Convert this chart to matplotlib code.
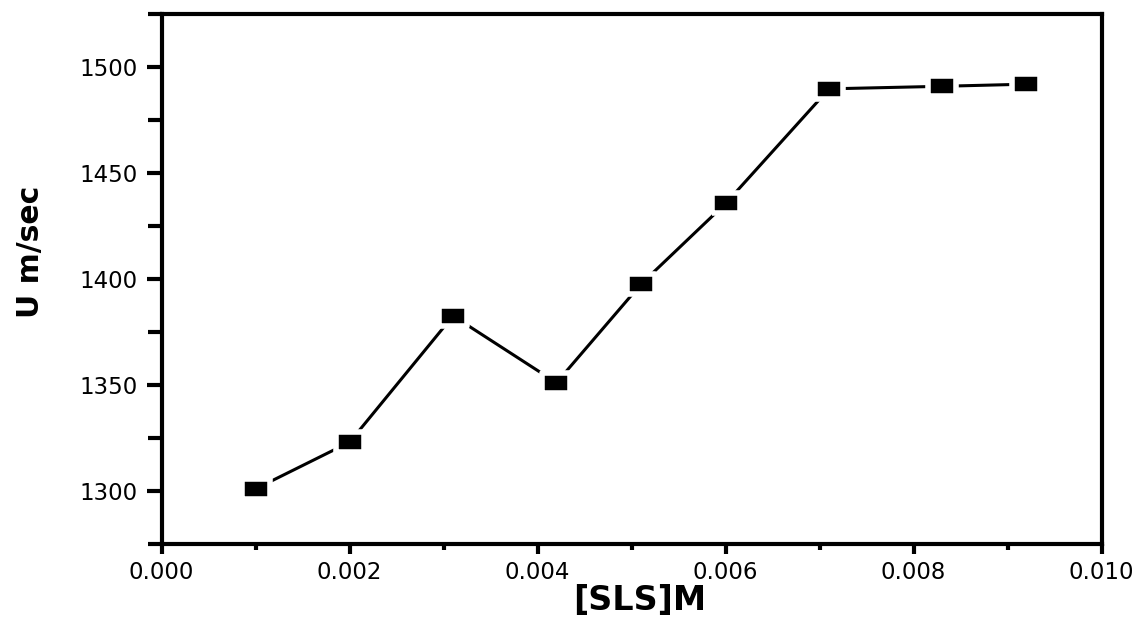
import matplotlib
matplotlib.use("Agg")
import matplotlib.pyplot as plt
from matplotlib.ticker import MultipleLocator, FormatStrFormatter

# Data
sls_conc = [0.0010, 0.0020, 0.0031, 0.0042, 0.0051, 0.0060, 0.0071, 0.0083, 0.0092]
u_speed = [1301, 1323, 1382.5, 1351, 1397.5, 1435.5, 1489.5, 1490.7, 1491.7]

x_label = "[SLS]M"
y_label = "U m/sec"

plt.rcParams['font.family'] = ['DejaVu Sans']

fig = plt.figure(figsize=(11.36, 6.2), dpi=100)
ax = fig.add_axes([0.1423, 0.1226, 0.8275, 0.8556])

# rectangular marker (wider than tall)
rect = [(-1.357, -1.0), (1.357, -1.0), (1.357, 1.0), (-1.357, 1.0), (-1.357, -1.0)]
ax.plot(sls_conc, u_speed, color='black', lw=2.2,
        marker=rect, markersize=19.5, markerfacecolor='black',
        markeredgecolor='white', markeredgewidth=4, zorder=3, clip_on=False)

ax.set_xlim(0.0, 0.010)
ax.set_ylim(1275, 1525)

ax.xaxis.set_major_locator(MultipleLocator(0.002))
ax.xaxis.set_minor_locator(MultipleLocator(0.001))
ax.xaxis.set_major_formatter(FormatStrFormatter('%.3f'))
ax.yaxis.set_major_locator(MultipleLocator(50))
ax.yaxis.set_minor_locator(MultipleLocator(25))

for s in ax.spines.values():
    s.set_linewidth(3)
    s.set_color('black')

ax.tick_params(axis='x', which='major', direction='out', length=7.5, width=3,
               pad=5, labelsize=16.5, top=False)
ax.tick_params(axis='x', which='minor', direction='out', length=4.5, width=3, top=False)
ax.tick_params(axis='y', which='major', direction='out', length=11, width=3,
               pad=6, labelsize=16.5, right=False)
ax.tick_params(axis='y', which='minor', direction='out', length=10, width=3, right=False)

xl = ax.set_xlabel(x_label, fontsize=24, fontweight='bold')
xl.set_va('center')
ax.xaxis.set_label_coords(0.508, -0.107)

yl = ax.set_ylabel(y_label, fontsize=21.5, fontweight='bold')
yl.set_va('center')
ax.yaxis.set_label_coords(-0.139, 0.551)

fig.savefig("out.png", dpi=100)
